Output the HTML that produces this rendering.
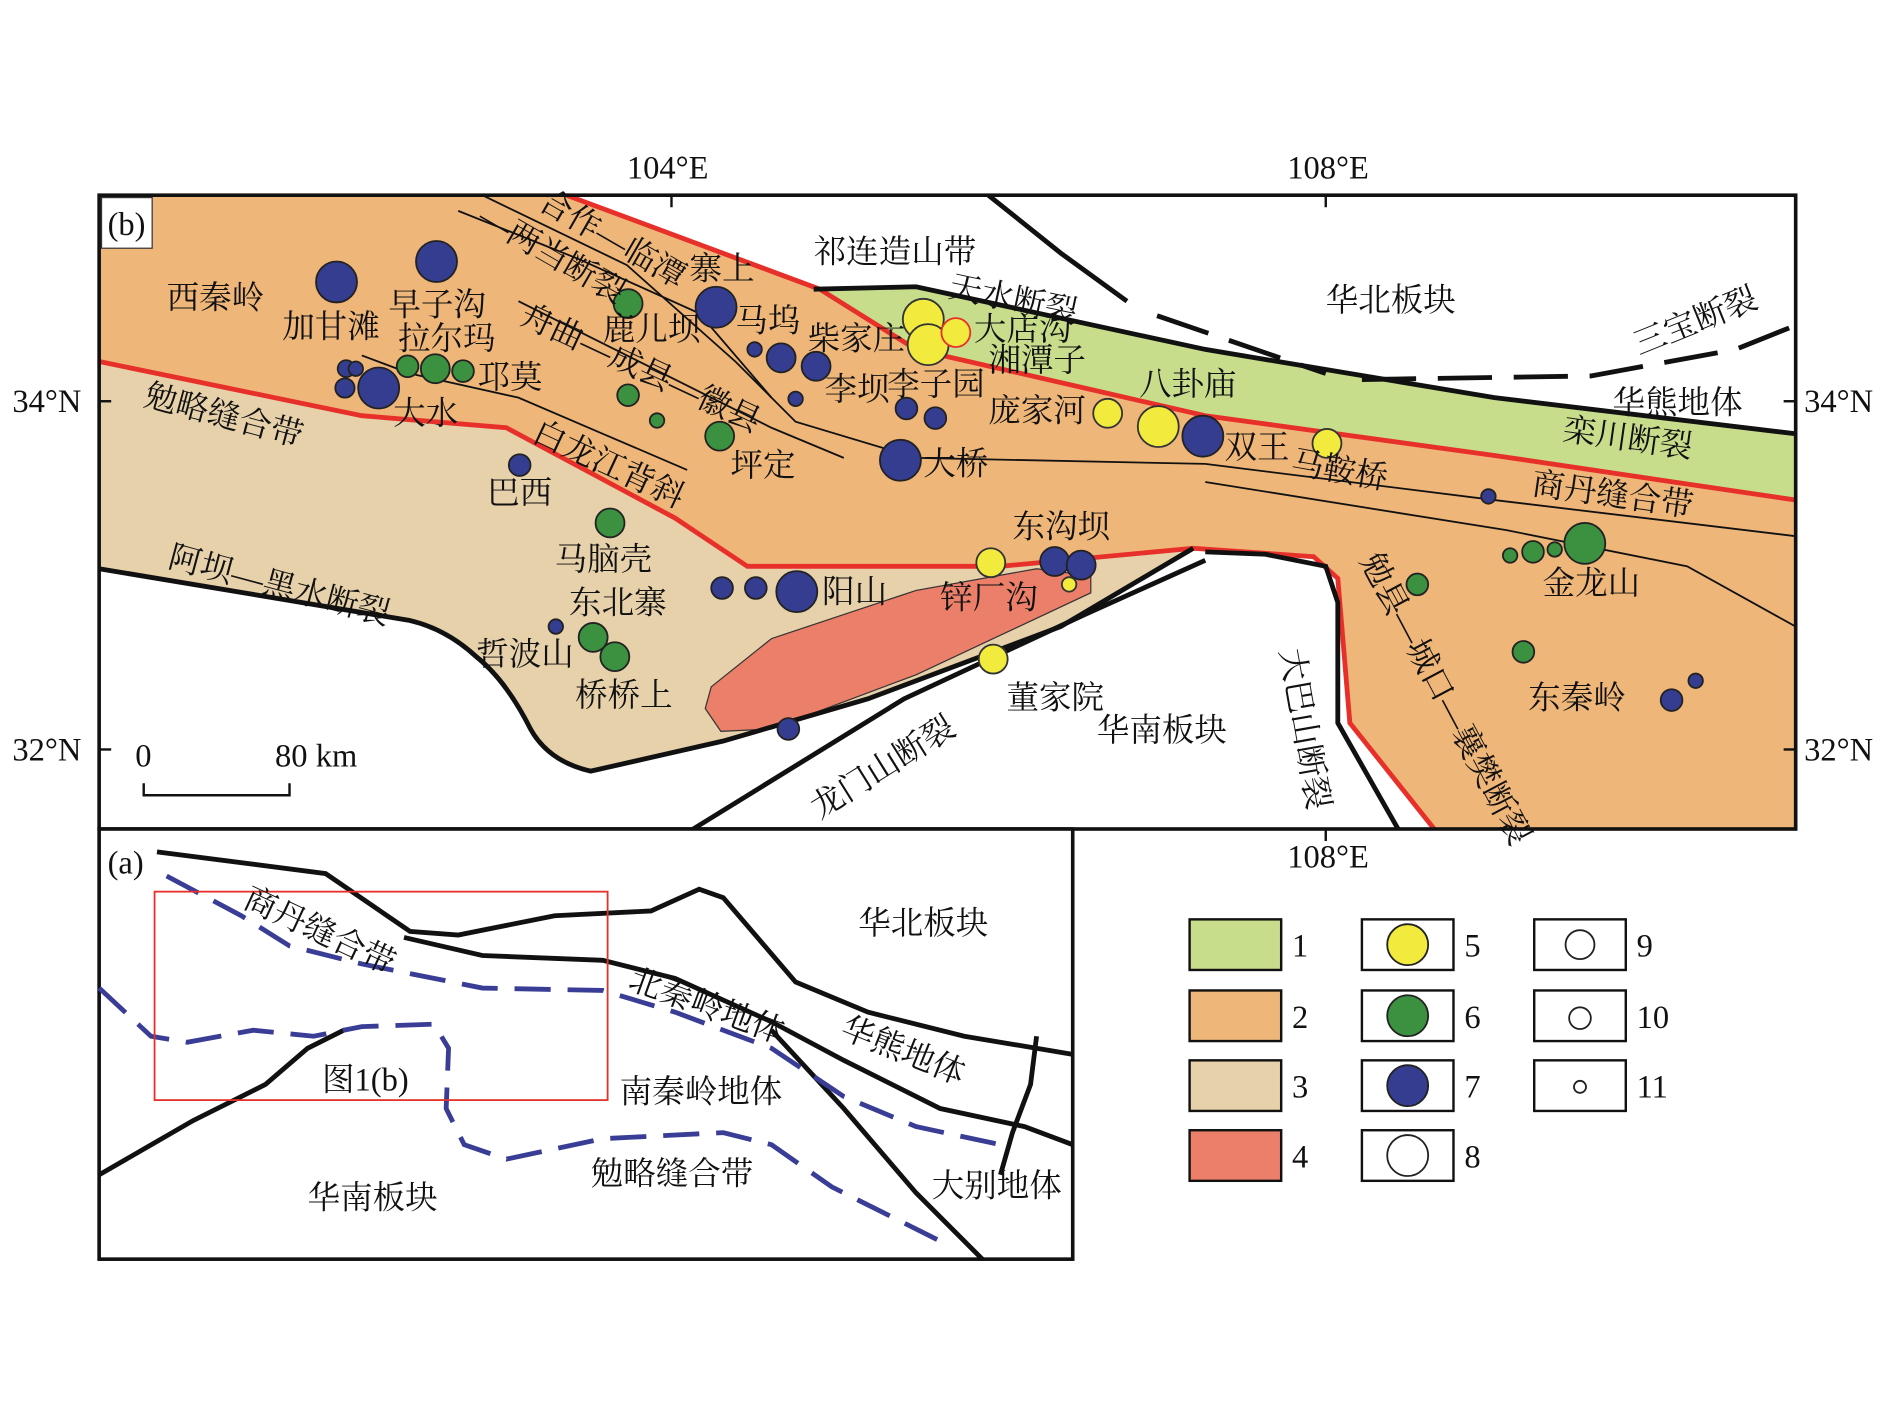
<!DOCTYPE html>
<html><head><meta charset="utf-8"><style>
html,body{margin:0;padding:0;background:#fff}
svg{display:block}
text{font-family:"Liberation Serif","Noto Serif CJK SC","Noto Sans CJK SC",serif;fill:#111;font-size:27px}
</style></head><body>
<svg width="1890" height="1417" viewBox="0 0 1568 1176" xmlns="http://www.w3.org/2000/svg">
<rect width="1568" height="1176" fill="#fff"/>
<g>
<rect x="82" y="162" width="1408" height="526" fill="#fff"/>
<path d="M82,162 L470,162 L680,240 L760,290 L1000,345 L1240,378 L1490,415 L1490,688 L1190,688 L1120,600 L1110,480 L1090,462 L990,455 L830,470 L620,470 L560,430 L420,355 L300,345 L82,300 Z" fill="#efb67a"/>
<path d="M675,240 L760,238 L1000,290 L1240,330 L1490,360 L1490,415 L1240,378 L1000,345 L760,292 Z" fill="#c8dd8c"/>
<path d="M82,300 L300,345 L420,355 L560,430 L620,470 L830,470 L990,455 L880,520 L720,580 L600,615 L490,640 Q455,632 440,605 Q420,565 395,545 Q370,522 340,515 L82,472 Z" fill="#e6d1aa"/>
<path d="M590,570 L640,530 L760,490 L860,472 L905,478 L905,492 L760,560 L640,605 L598,607 L585,588 Z" fill="#ec7f6a" stroke="#333" stroke-width="1"/>
<g fill="none" stroke="#e8302a" stroke-width="4">
<path d="M470,162 L680,240"/>
<path d="M680,240 L760,290 L1000,345 L1240,378 L1490,415"/>
<path d="M82,300 L300,345 L420,355 L560,430 L620,470 L830,470 L990,455 L1090,462 L1110,480 L1120,600 L1190,688"/>
</g>
<g fill="none" stroke="#111" stroke-width="1.5">
<path d="M400,162 L520,220 L610,300 L660,350 L760,380 L1000,385 L1240,415 L1490,445"/>
<path d="M380,175 L480,215 L580,260 L640,330"/>
<path d="M430,250 L560,315 L640,355 L700,380"/>
<path d="M300,295 L340,310 L430,330 L500,360 L570,390"/>
<path d="M1000,400 L1250,440 L1400,470 L1490,520"/>
</g>
<g fill="none" stroke="#111" stroke-width="4">
<path d="M675,240 L760,238 L1000,290 L1240,330 L1490,360"/>
<path d="M990,455 L880,520 L720,580 L600,615 L490,640 Q455,632 440,605 Q420,565 395,545 Q370,522 340,515 L82,472"/>
<path d="M1000,465 L900,510 L750,580 L575,688"/>
<path d="M1000,458 L1050,460 L1100,470 L1110,500 L1110,600 L1160,688"/>
<path d="M820,162 L880,210 L935,250" />
<path d="M960,262 L1100,310 M1130,315 L1320,312 L1440,290 L1490,270" stroke-dasharray="45,18"/>
</g>
<g fill="#353d91" stroke="#222" stroke-width="1.5">
<circle cx="279" cy="234" r="17"/><circle cx="362" cy="217" r="17"/><circle cx="594" cy="255" r="17"/>
<circle cx="314" cy="322" r="17"/><circle cx="287" cy="306" r="7"/><circle cx="295" cy="306" r="6"/>
<circle cx="286" cy="322" r="8"/><circle cx="431" cy="386" r="9"/><circle cx="648" cy="297" r="12"/>
<circle cx="677" cy="304" r="12"/><circle cx="626" cy="290" r="6"/><circle cx="660" cy="331" r="6"/>
<circle cx="752" cy="339" r="9"/><circle cx="776" cy="347" r="9"/><circle cx="747" cy="382" r="17"/>
<circle cx="998" cy="362" r="17"/><circle cx="875" cy="466" r="12"/><circle cx="897" cy="469" r="12"/>
<circle cx="599" cy="488" r="9"/><circle cx="627" cy="488" r="9"/><circle cx="661" cy="491" r="17"/>
<circle cx="461" cy="520" r="6"/><circle cx="654" cy="605" r="9"/><circle cx="1235" cy="412" r="6"/>
<circle cx="1387" cy="581" r="9"/><circle cx="1407" cy="565" r="6"/>
</g>
<g fill="#3b9140" stroke="#222" stroke-width="1.5">
<circle cx="521" cy="252" r="12"/><circle cx="338" cy="304" r="9"/><circle cx="361" cy="306" r="12"/>
<circle cx="384" cy="308" r="9"/><circle cx="521" cy="328" r="9"/><circle cx="545" cy="349" r="6"/>
<circle cx="597" cy="362" r="12"/><circle cx="506" cy="434" r="12"/><circle cx="492" cy="529" r="12"/>
<circle cx="510" cy="545" r="12"/><circle cx="1176" cy="485" r="9"/><circle cx="1253" cy="461" r="6"/>
<circle cx="1272" cy="458" r="9"/><circle cx="1290" cy="456" r="6"/><circle cx="1315" cy="451" r="17"/>
<circle cx="1264" cy="541" r="9"/>
</g>
<g fill="#f2ea3c" stroke="#333" stroke-width="1.5">
<circle cx="766" cy="265" r="17"/><circle cx="770" cy="286" r="17"/>
<circle cx="793" cy="276" r="12" stroke="#e8302a"/>
<circle cx="919" cy="343" r="12"/><circle cx="961" cy="354" r="17"/><circle cx="1101" cy="368" r="12"/>
<circle cx="822" cy="467" r="12"/><circle cx="887" cy="485" r="6"/><circle cx="824" cy="547" r="12"/>
</g>
<rect x="82" y="162" width="1408" height="526" fill="none" stroke="#111" stroke-width="3"/>
<rect x="84" y="164" width="42" height="42" fill="#fff" stroke="#333" stroke-width="1"/>
<text x="89" y="195" font-size="24">(b)</text>
<g stroke="#111" stroke-width="2"><line x1="557" y1="162" x2="557" y2="172"/><line x1="1100" y1="162" x2="1100" y2="172"/>
<line x1="82" y1="333" x2="92" y2="333"/><line x1="82" y1="622" x2="92" y2="622"/>
<line x1="1480" y1="333" x2="1490" y2="333"/><line x1="1480" y1="622" x2="1490" y2="622"/>
<line x1="557" y1="688" x2="557" y2="698"/><line x1="1100" y1="688" x2="1100" y2="698"/>
<path d="M119,650 L119,660 L240,660 L240,650" fill="none"/></g>
<text x="520" y="148">104°E</text><text x="1068" y="148">108°E</text>
<text x="10" y="342">34°N</text><text x="10" y="631">32°N</text>
<text x="1497" y="342">34°N</text><text x="1497" y="631">32°N</text>
<text x="520" y="720">104°E</text><text x="1068" y="720">108°E</text>
<text x="112" y="636">0</text><text x="228" y="636">80 km</text>
<text x="138" y="256">西秦岭</text><text x="234" y="280">加甘滩</text><text x="322" y="262">早子沟</text>
<text x="330" y="290">拉尔玛</text><text x="396" y="322">邛莫</text><text x="326" y="352">大水</text>
<text x="500" y="282">鹿儿坝</text><text x="572" y="232">寨上</text><text x="610" y="275">马坞</text>
<text x="670" y="290">柴家庄</text><text x="684" y="332">李坝</text><text x="736" y="328">李子园</text>
<text x="675" y="218">祁连造山带</text><text x="1100" y="258">华北板块</text>
<text x="808" y="282">大店沟</text><text x="820" y="308">湘潭子</text><text x="820" y="350">庞家河</text>
<text x="945" y="328">八卦庙</text><text x="1016" y="380">双王</text><text x="766" y="394">大桥</text>
<text x="404" y="418">巴西</text><text x="606" y="395">坪定</text><text x="460" y="473">马脑壳</text>
<text x="472" y="509">东北寨</text><text x="395" y="552">哲波山</text><text x="477" y="586">桥桥上</text>
<text x="682" y="500">阳山</text><text x="780" y="505">锌厂沟</text><text x="840" y="446">东沟坝</text>
<text x="835" y="588">董家院</text><text x="910" y="615">华南板块</text>
<text x="1280" y="493">金龙山</text><text x="1268" y="588">东秦岭</text>
<text x="1338" y="343">华熊地体</text>
<g transform="translate(786,246) rotate(12)"><text>天水断裂</text></g>
<g transform="translate(1360,295) rotate(-22)"><text>三宝断裂</text></g>
<g transform="translate(1296,365) rotate(8)"><text>栾川断裂</text></g>
<g transform="translate(1270,410) rotate(8)"><text>商丹缝合带</text></g>
<g transform="translate(1070,392) rotate(10)"><text>马鞍桥</text></g>
<g transform="translate(118,336) rotate(15)"><text>勉略缝合带</text></g>
<g transform="translate(440,365) rotate(25)"><text>白龙江背斜</text></g>
<g transform="translate(138,470) rotate(15)"><text>阿坝—黑水断裂</text></g>
<g transform="translate(445,172) rotate(30)"><text>合作—临潭</text></g>
<g transform="translate(395,185) rotate(30)"><text>—两当断裂</text></g>
<g transform="translate(430,268) rotate(25)"><text>舟曲—成县—徽县</text></g>
<g transform="translate(680,680) rotate(-32)"><text>龙门山断裂</text></g>
<g transform="translate(1062,540) rotate(80)"><text>大巴山断裂</text></g>
<g transform="translate(1128,465) rotate(62)"><text>勉县—城口—襄樊断裂</text></g>
</g>
<rect x="82" y="688" width="808" height="357" fill="#fff" stroke="#111" stroke-width="3"/>
<text x="89" y="725" font-size="24">(a)</text>
<g fill="none" stroke="#111" stroke-width="4">
<path d="M130,707 L270,725 L340,773 L380,776 L460,760 L540,756 L580,738 L600,745 L630,780 L660,815 L720,840 L800,860 L890,875"/>
<path d="M335,778 L400,793 L500,797 L560,812 L640,848 L700,880 L780,920 L850,935 L890,950"/>
<path d="M82,975 L160,930 L220,900 L255,870 L285,855"/>
<path d="M640,855 L700,920 L760,990 L815,1045"/>
<path d="M860,860 L855,900 L840,940 L830,975"/>
</g>
<g fill="none" stroke="#3a3d96" stroke-width="4" stroke-dasharray="30,14">
<path d="M138,727 L200,760 L240,785 L300,800 L400,820 L500,822 L560,840 L640,870 L700,910 L760,935 L830,950"/>
<path d="M82,820 L125,860 L155,865 L210,855 L260,860 L300,852 L360,850 L372,870 L370,920 L385,950 L420,962 L500,945 L600,940 L640,950 L690,985 L750,1015 L790,1035"/>
</g>
<rect x="128" y="740" width="376" height="173" fill="none" stroke="#e8302a" stroke-width="1.5"/>
<text x="712" y="775">华北板块</text><text x="267" y="905">图1(b)</text>
<text x="514" y="915">南秦岭地体</text><text x="255" y="1003">华南板块</text>
<text x="490" y="983">勉略缝合带</text><text x="773" y="993">大别地体</text>
<g transform="translate(200,752) rotate(25)"><text>商丹缝合带</text></g>
<g transform="translate(520,820) rotate(20)"><text>北秦岭地体</text></g>
<g transform="translate(696,860) rotate(22)"><text>华熊地体</text></g>
<g stroke="#111" stroke-width="2">
<rect x="987" y="763" width="76" height="42" fill="#c8dd8c"/>
<rect x="987" y="822" width="76" height="42" fill="#efb67a"/>
<rect x="987" y="880" width="76" height="42" fill="#e6d1aa"/>
<rect x="987" y="938" width="76" height="42" fill="#ec7f6a"/>
<rect x="1130" y="763" width="76" height="42" fill="#fff"/>
<rect x="1130" y="822" width="76" height="42" fill="#fff"/>
<rect x="1130" y="880" width="76" height="42" fill="#fff"/>
<rect x="1130" y="938" width="76" height="42" fill="#fff"/>
<rect x="1273" y="763" width="76" height="42" fill="#fff"/>
<rect x="1273" y="822" width="76" height="42" fill="#fff"/>
<rect x="1273" y="880" width="76" height="42" fill="#fff"/>
</g>
<g stroke="#222" stroke-width="1.5">
<circle cx="1168" cy="784" r="17" fill="#f2ea3c"/><circle cx="1168" cy="843" r="17" fill="#3b9140"/>
<circle cx="1168" cy="901" r="17" fill="#353d91"/><circle cx="1168" cy="959" r="17" fill="#fff"/>
<circle cx="1311" cy="784" r="12" fill="#fff"/><circle cx="1311" cy="845" r="9" fill="#fff"/>
<circle cx="1311" cy="902" r="5" fill="#fff"/>
</g>
<text x="1072" y="794">1</text><text x="1072" y="853">2</text><text x="1072" y="911">3</text><text x="1072" y="969">4</text>
<text x="1215" y="794">5</text><text x="1215" y="853">6</text><text x="1215" y="911">7</text><text x="1215" y="969">8</text>
<text x="1358" y="794">9</text><text x="1358" y="853">10</text><text x="1358" y="911">11</text>
</svg>
</body></html>
